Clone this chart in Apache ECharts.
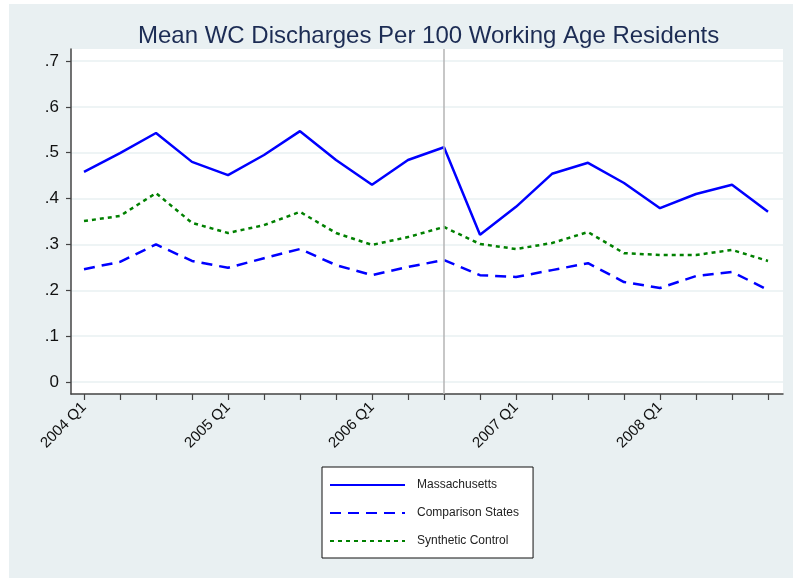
<!DOCTYPE html>
<html>
<head>
<meta charset="utf-8">
<script src="https://cdn.jsdelivr.net/npm/echarts@6/dist/echarts.min.js"></script>
<style>
  html, body { margin: 0; padding: 0; background: #fff; }
  #chart { position: absolute; left: 9px; top: 4px; width: 784px; height: 574px; }
</style>
</head>
<body>
<div id="chart"></div>
<script>
// quarters 2004 Q1 .. 2008 Q4
var quarters = ['2004 Q1','2004 Q2','2004 Q3','2004 Q4','2005 Q1','2005 Q2','2005 Q3','2005 Q4',
    '2006 Q1','2006 Q2','2006 Q3','2006 Q4','2007 Q1','2007 Q2','2007 Q3','2007 Q4',
    '2008 Q1','2008 Q2','2008 Q3','2008 Q4'];
var xLabelIdx = [0, 4, 8, 12, 16];
var treatIdx = 10; // 2006 Q3

var massachusetts = [0.458,0.499,0.543,0.480,0.451,0.495,0.547,0.484,0.430,0.484,
    0.512,0.321,0.382,0.454,0.478,0.434,0.379,0.410,0.430,0.371];
var comparison = [0.246,0.262,0.300,0.264,0.249,0.270,0.290,0.255,0.233,0.251,
    0.266,0.233,0.229,0.244,0.259,0.218,0.205,0.231,0.240,0.201];
var synthetic = [0.351,0.362,0.412,0.347,0.325,0.342,0.371,0.325,0.299,0.316,
    0.338,0.301,0.290,0.303,0.327,0.281,0.277,0.277,0.288,0.264];

var yTicks = [0, 0.1, 0.2, 0.3, 0.4, 0.5, 0.6, 0.7];
var yTickLabels = ['0', '.1', '.2', '.3', '.4', '.5', '.6', '.7'];

function toPairs(arr) {
    return arr.map(function (v, i) { return [i, v]; });
}

var myChart = echarts.init(document.getElementById('chart'));

var option = {
    backgroundColor: '#e9f0f2',
    animation: false,
    textStyle: { fontFamily: '"Liberation Sans", Arial, sans-serif' },
    title: {
        text: 'Mean WC Discharges Per 100 Working Age Residents',
        left: 124,
        top: 15,
        textStyle: { fontSize: 24, fontWeight: 'normal', color: '#1c2c54' }
    },
    legend: {
        orient: 'vertical',
        left: 313,
        top: 463,
        padding: [12, 14, 11, 7],
        itemWidth: 75,
        itemHeight: 14,
        itemGap: 16,
        backgroundColor: '#fff',
        borderColor: '#111',
        borderWidth: 1,
        borderRadius: 0,
        itemStyle: { opacity: 0 },
        textStyle: { fontSize: 12, color: '#222', padding: [0, 0, 0, 7] },
        data: ['Massachusetts', 'Comparison States', 'Synthetic Control']
    },
    grid: {
        left: 62, right: 10, top: 45, bottom: 184,
        show: true, backgroundColor: '#fff', borderWidth: 0
    },
    xAxis: {
        type: 'value',
        min: -13 / 36,
        max: 19 + 15 / 36,
        axisLine: { show: true, onZero: false, lineStyle: { color: '#444', width: 1.5 } },
        axisTick: {
            show: true, length: 6, inside: false,
            lineStyle: { color: '#444', width: 1.2 },
            customValues: quarters.map(function (q, i) { return i; })
        },
        axisLabel: {
            customValues: xLabelIdx,
            rotate: 45,
            margin: 11,
            fontSize: 15,
            color: '#111',
            formatter: function (v) { return quarters[Math.round(v)]; }
        },
        splitLine: { show: false }
    },
    yAxis: {
        type: 'value',
        min: -12 / 458.6,
        max: 0.7 + 12 / 458.6,
        axisLine: { show: true, onZero: false, lineStyle: { color: '#444', width: 1.5 } },
        axisTick: {
            show: true, length: 5,
            lineStyle: { color: '#444', width: 1.2 },
            customValues: yTicks
        },
        axisLabel: {
            customValues: yTicks,
            fontSize: 17,
            color: '#111',
            margin: 12,
            formatter: function (v) {
                var i = Math.round(v * 10);
                return yTickLabels[i];
            }
        },
        splitLine: { show: true, lineStyle: { color: '#e9f0f2', width: 1.5 } }
    },
    series: [
        {
            name: 'Massachusetts',
            type: 'line',
            data: toPairs(massachusetts),
            symbol: 'none',
            itemStyle: { color: '#0000ff' },
            lineStyle: { color: '#0000ff', width: 2.5, type: 'solid' },
            z: 3,
            markLine: {
                silent: true,
                symbol: 'none',
                label: { show: false },
                lineStyle: { color: '#b4b4b4', width: 1.5, type: 'solid' },
                data: [{ xAxis: treatIdx }]
            }
        },
        {
            name: 'Comparison States',
            type: 'line',
            data: toPairs(comparison),
            symbol: 'none',
            itemStyle: { color: '#0000ff' },
            lineStyle: { color: '#0000ff', width: 2.5, type: [11, 7] },
            z: 3
        },
        {
            name: 'Synthetic Control',
            type: 'line',
            data: toPairs(synthetic),
            symbol: 'none',
            itemStyle: { color: '#008000' },
            lineStyle: { color: '#008000', width: 2.5, type: [4, 4] },
            z: 3
        }
    ]
};

myChart.setOption(option);
</script>
</body>
</html>
